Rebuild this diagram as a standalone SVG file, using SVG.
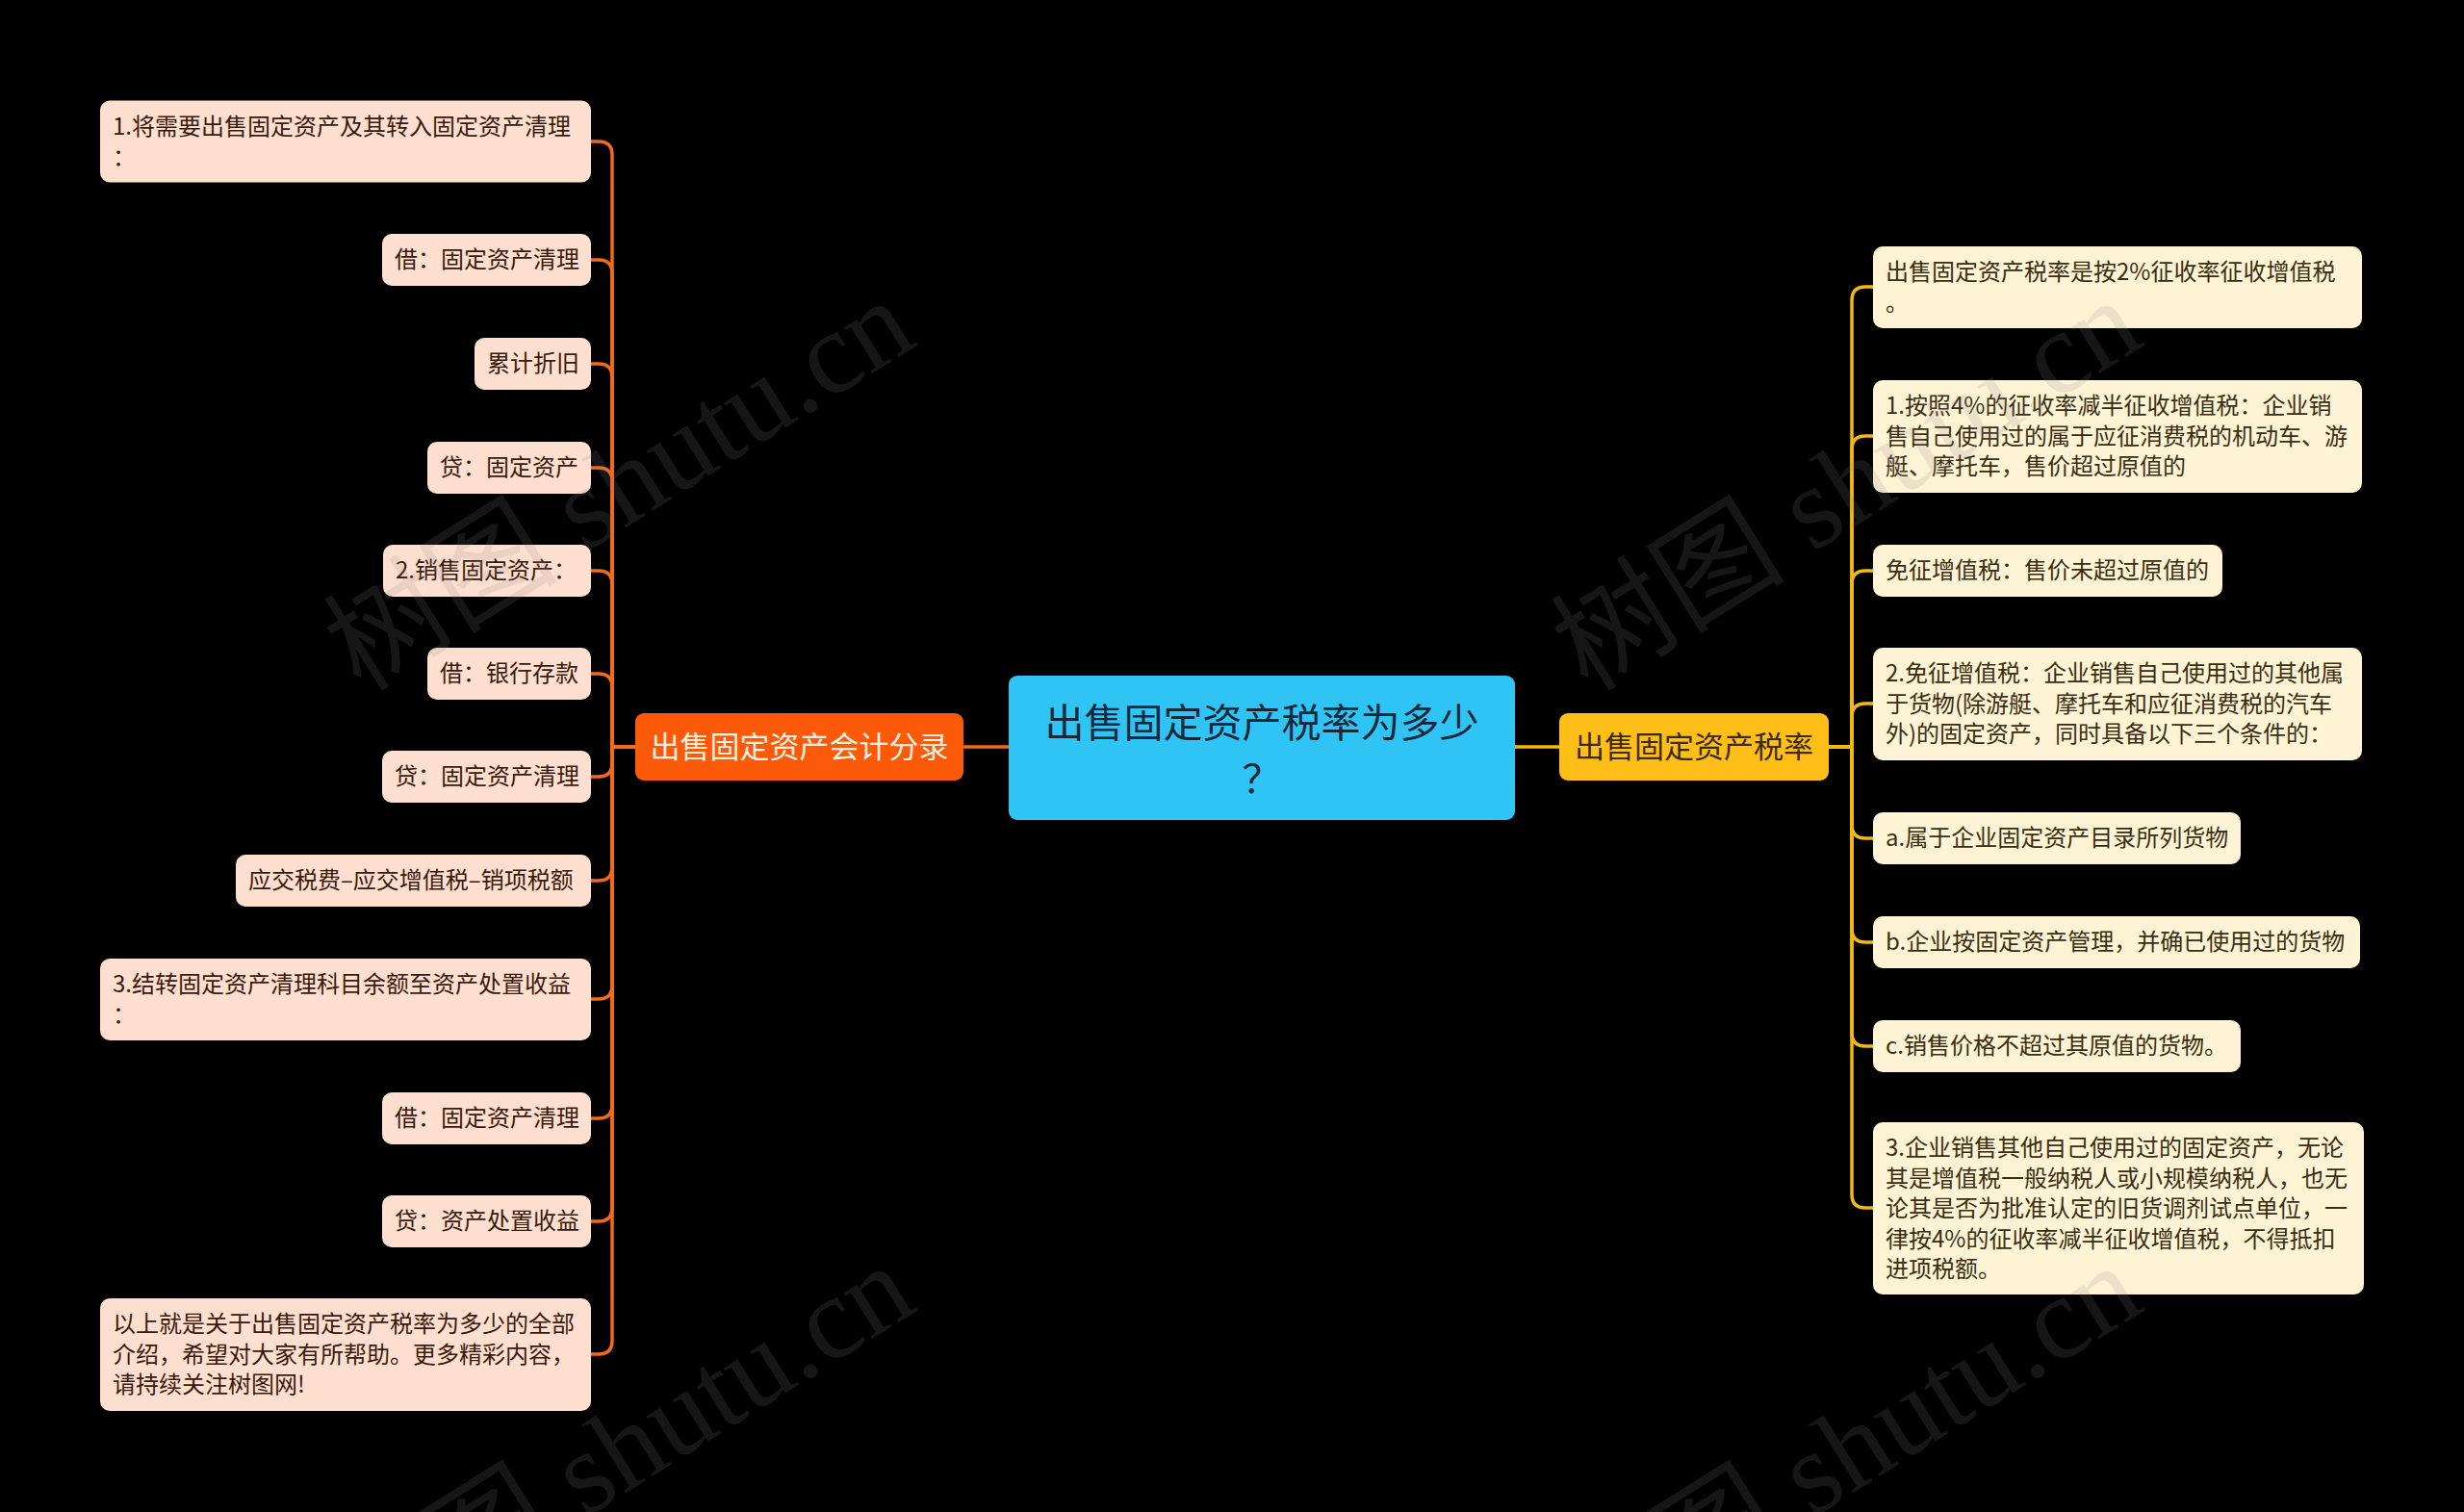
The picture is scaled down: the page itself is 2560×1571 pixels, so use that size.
<svg xmlns="http://www.w3.org/2000/svg" width="2560" height="1571" viewBox="0 0 2560 1571">
<style>
text{font-family:"Noto Sans CJK SC","Noto Sans",sans-serif;}
.ll rect{fill:#ffe0d0;}
.ll text{fill:#3a1a0c;font-size:24px;}
.rl rect{fill:#fff3d6;}
.rl text{fill:#3a2e10;font-size:24px;}
.cl{fill:none;stroke:#f26a1c;stroke-width:3.5;stroke-linecap:round;}
.cr{fill:none;stroke:#f2b90f;stroke-width:3.5;stroke-linecap:round;}
.wm{font-family:"Liberation Serif","Noto Sans CJK SC",serif;font-size:122px;fill:#8a8a8a;opacity:0.16;}
</style>
<rect x="0" y="0" width="2560" height="1571" fill="#000000"/>
<g id="connectors">
<path class="cl" d="M1048 776H1001"/>
<path class="cl" d="M660 776H636V161Q636 147 622 147H614"/>
<path class="cl" d="M660 776H636V284Q636 270 622 270H614"/>
<path class="cl" d="M660 776H636V392Q636 378 622 378H614"/>
<path class="cl" d="M660 776H636V500Q636 486 622 486H614"/>
<path class="cl" d="M660 776H636V607Q636 593 622 593H614"/>
<path class="cl" d="M660 776H636V714Q636 700 622 700H614"/>
<path class="cl" d="M660 776H636V793Q636 807 622 807H614"/>
<path class="cl" d="M660 776H636V901Q636 915 622 915H614"/>
<path class="cl" d="M660 776H636V1024Q636 1038 622 1038H614"/>
<path class="cl" d="M660 776H636V1148Q636 1162 622 1162H614"/>
<path class="cl" d="M660 776H636V1255Q636 1269 622 1269H614"/>
<path class="cl" d="M660 776H636V1393Q636 1407 622 1407H614"/>
<path class="cr" d="M1574 776H1620"/>
<path class="cr" d="M1900 776H1924V312Q1924 298 1938 298H1946"/>
<path class="cr" d="M1900 776H1924V467Q1924 453 1938 453H1946"/>
<path class="cr" d="M1900 776H1924V607Q1924 593 1938 593H1946"/>
<path class="cr" d="M1900 776H1924V745Q1924 731 1938 731H1946"/>
<path class="cr" d="M1900 776H1924V857Q1924 871 1938 871H1946"/>
<path class="cr" d="M1900 776H1924V965Q1924 979 1938 979H1946"/>
<path class="cr" d="M1900 776H1924V1073Q1924 1087 1938 1087H1946"/>
<path class="cr" d="M1900 776H1924V1241Q1924 1255 1938 1255H1946"/>
</g>
<g id="center">
<rect x="1048" y="702" width="526" height="150" rx="9" fill="#30c4f4"/>
<text x="1311" y="766" font-size="41" fill="#13293a" text-anchor="middle">出售固定资产税率为多少</text>
<text x="1311" y="824" font-size="41" fill="#13293a" text-anchor="middle">？</text>
</g>
<g id="branch-left">
<rect x="660" y="741" width="341" height="70" rx="9" fill="#fc5a08"/>
<text x="830.5" y="787" font-size="31" fill="#fff1e4" text-anchor="middle">出售固定资产会计分录</text>
</g>
<g id="branch-right">
<rect x="1620" y="741" width="280" height="70" rx="9" fill="#ffbe18"/>
<text x="1760" y="787" font-size="31" fill="#3b2a00" text-anchor="middle">出售固定资产税率</text>
</g>
<g id="L1" class="ll"><rect x="104" y="104.5" width="510" height="85" rx="10"/><text x="117" y="140">1.将需要出售固定资产及其转入固定资产清理</text><text x="117" y="171.5">：</text></g>
<g id="L2" class="ll"><rect x="397" y="243" width="217" height="54" rx="10"/><text x="410" y="278">借：固定资产清理</text></g>
<g id="L3" class="ll"><rect x="493" y="351" width="121" height="54" rx="10"/><text x="506" y="386">累计折旧</text></g>
<g id="L4" class="ll"><rect x="444" y="459" width="170" height="54" rx="10"/><text x="457" y="494">贷：固定资产</text></g>
<g id="L5" class="ll"><rect x="398" y="566" width="216" height="54" rx="10"/><text x="411" y="601">2.销售固定资产：</text></g>
<g id="L6" class="ll"><rect x="444" y="673" width="170" height="54" rx="10"/><text x="457" y="708">借：银行存款</text></g>
<g id="L7" class="ll"><rect x="397" y="780" width="217" height="54" rx="10"/><text x="410" y="815">贷：固定资产清理</text></g>
<g id="L8" class="ll"><rect x="245" y="888" width="369" height="54" rx="10"/><text x="258" y="923">应交税费–应交增值税–销项税额</text></g>
<g id="L9" class="ll"><rect x="104" y="996" width="510" height="85" rx="10"/><text x="117" y="1031">3.结转固定资产清理科目余额至资产处置收益</text><text x="117" y="1062.5">：</text></g>
<g id="L10" class="ll"><rect x="397" y="1135" width="217" height="54" rx="10"/><text x="410" y="1170">借：固定资产清理</text></g>
<g id="L11" class="ll"><rect x="397" y="1242" width="217" height="54" rx="10"/><text x="410" y="1277">贷：资产处置收益</text></g>
<g id="L12" class="ll"><rect x="104" y="1349" width="510" height="117" rx="10"/><text x="117" y="1384">以上就是关于出售固定资产税率为多少的全部</text><text x="117" y="1415.5">介绍，希望对大家有所帮助。更多精彩内容，</text><text x="117" y="1447">请持续关注树图网!</text></g>
<g id="R1" class="rl"><rect x="1946" y="256" width="508" height="85" rx="10"/><text x="1959" y="291">出售固定资产税率是按2%征收率征收增值税</text><text x="1959" y="322.5">。</text></g>
<g id="R2" class="rl"><rect x="1946" y="395" width="508" height="117" rx="10"/><text x="1959" y="430">1.按照4%的征收率减半征收增值税：企业销</text><text x="1959" y="461.5">售自己使用过的属于应征消费税的机动车、游</text><text x="1959" y="493">艇、摩托车，售价超过原值的</text></g>
<g id="R3" class="rl"><rect x="1946" y="566" width="363" height="54" rx="10"/><text x="1959" y="601">免征增值税：售价未超过原值的</text></g>
<g id="R4" class="rl"><rect x="1946" y="673" width="508" height="117" rx="10"/><text x="1959" y="708">2.免征增值税：企业销售自己使用过的其他属</text><text x="1959" y="739.5">于货物(除游艇、摩托车和应征消费税的汽车</text><text x="1959" y="771">外)的固定资产，同时具备以下三个条件的：</text></g>
<g id="R5" class="rl"><rect x="1946" y="844" width="382" height="54" rx="10"/><text x="1959" y="879">a.属于企业固定资产目录所列货物</text></g>
<g id="R6" class="rl"><rect x="1946" y="952" width="506" height="54" rx="10"/><text x="1959" y="987">b.企业按固定资产管理，并确已使用过的货物</text></g>
<g id="R7" class="rl"><rect x="1946" y="1060" width="382" height="54" rx="10"/><text x="1959" y="1095">c.销售价格不超过其原值的货物。</text></g>
<g id="R8" class="rl"><rect x="1946" y="1166" width="510" height="179" rx="10"/><text x="1959" y="1201">3.企业销售其他自己使用过的固定资产，无论</text><text x="1959" y="1232.5">其是增值税一般纳税人或小规模纳税人，也无</text><text x="1959" y="1264">论其是否为批准认定的旧货调剂试点单位，一</text><text x="1959" y="1295.5">律按4%的征收率减半征收增值税，不得抵扣</text><text x="1959" y="1327">进项税额。</text></g>
<g id="watermarks">
<text class="wm" x="375" y="720" transform="rotate(-32 375 720)">树图 shutu.cn</text>
<text class="wm" x="1650" y="720" transform="rotate(-32 1650 720)">树图 shutu.cn</text>
<text class="wm" x="375" y="1723" transform="rotate(-32 375 1723)">树图 shutu.cn</text>
<text class="wm" x="1650" y="1723" transform="rotate(-32 1650 1723)">树图 shutu.cn</text>
</g>
</svg>
